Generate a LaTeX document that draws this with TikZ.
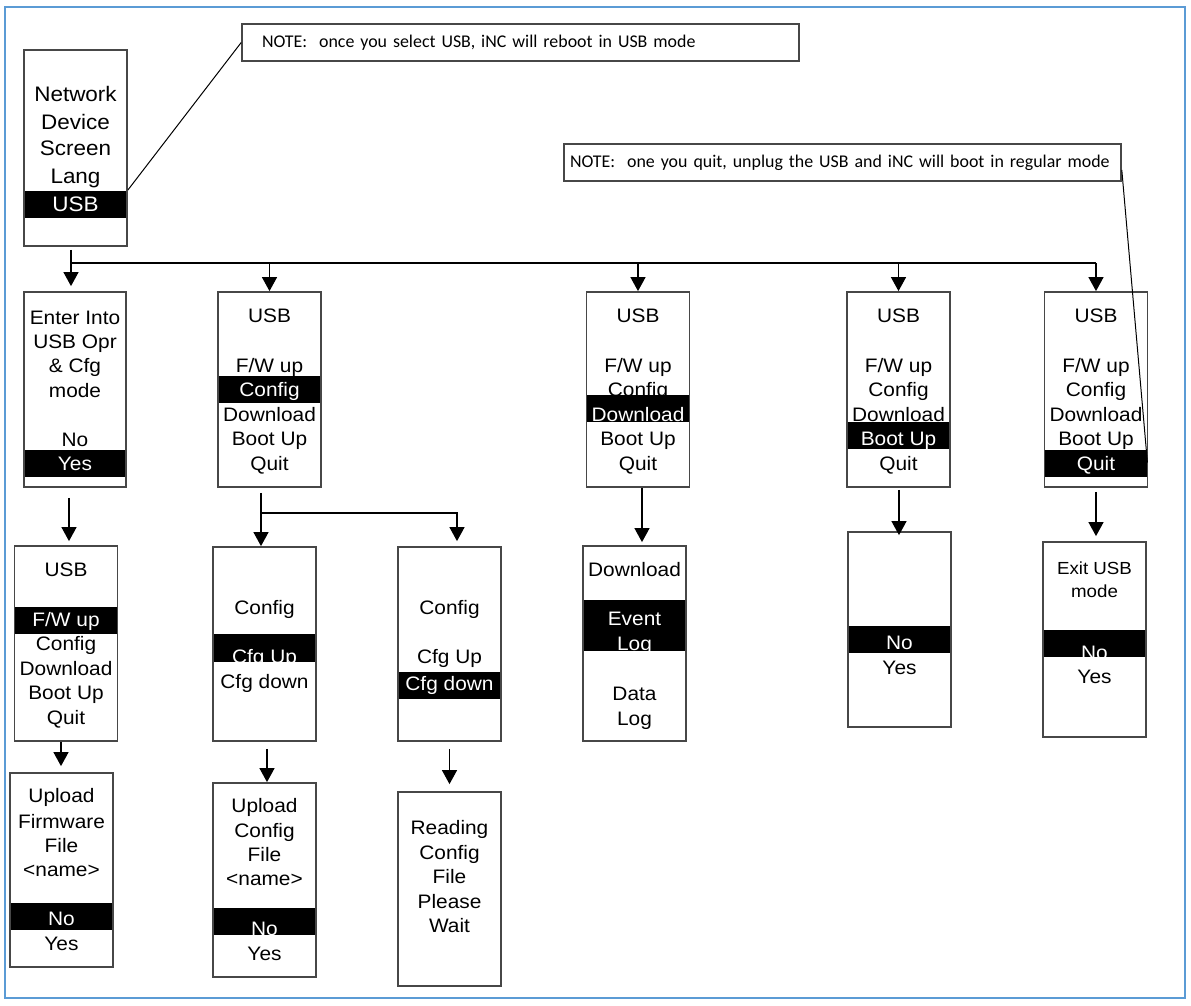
\documentclass[tikz,border=0pt]{standalone}
\usepackage{fontspec}
\setmainfont[FakeStretch=1.07]{Liberation Sans}
\newfontfamily\notefont{Carlito}
\usetikzlibrary{arrows.meta}

\definecolor{frameblue}{RGB}{91,155,213}
\newcommand{\fwup}{F/W up}

\tikzset{
  screen/.style={draw=black!72, line width=1.8pt, inner sep=0pt,
    minimum width=103pt, minimum height=195pt},
  item/.style={inner sep=0pt, text height=14pt, text depth=0pt,
    font=\fontsize{19.5}{24}\selectfont},
  sel/.style={item, text=white},
  note/.style={draw=black!72, line width=1.6pt, minimum height=37pt,
    align=left, font=\notefont\fontsize{17.9}{22}\selectfont},
  flow/.style={-{Triangle[width=15pt,length=14pt]}, line width=1.2pt},
  wire/.style={line width=1.2pt},
  lead/.style={line width=1pt},
}

% USB menu screen: name, centre x, top y, selected item, band top, band bottom
\newcommand{\usbmenu}[6]{%
  \node[item] at (#2,#3+23) {USB};
  \foreach \t [count=\i] in {\fwup,Config,Download,Boot Up,Quit}{
    \pgfmathsetmacro{\yy}{#3+48.5+24.5*\i}
    \ifnum\i=#4 \else \node[item] at (#2,\yy) {\t}; \fi
  }
  \fill (#2-51.5,#5) rectangle (#2+51.5,#6);
  \foreach \t [count=\i] in {\fwup,Config,Download,Boot Up,Quit}{
    \pgfmathsetmacro{\yy}{#3+48.5+24.5*\i}
    \ifnum\i=#4 \node[sel] at (#2,\yy) {\t}; \fi
  }
  \node[screen] (#1) at (#2,#3+97.5) {};
}

\begin{document}
\begin{tikzpicture}[x=1pt,y=-1pt]
  \useasboundingbox (0,0) rectangle (1191,1005);
  \draw[frameblue, line width=2pt] (5,7) rectangle (1185,998);

  % Notes.
  \node[note, text width=517pt, inner xsep=20pt] (note1) at (520.5,42.5)
    {NOTE:\ \ once you select USB, iNC will reboot in USB mode};
  \node[note, text width=545pt, inner xsep=6pt] (note2) at (842.5,162.5)
    {NOTE:\ \ one you quit, unplug the USB and iNC will boot in regular mode};

  % Main menu.
  \foreach \t/\yy in {Network/94, Device/122, Screen/148, Lang/176}
    \node[item, font=\fontsize{21}{26}\selectfont] at (75.5,\yy) {\t};
  \fill (24,191) rectangle (127,218);
  \node[sel, font=\fontsize{21}{26}\selectfont] at (75.5,204) {USB};
  \node[screen, minimum height=196pt] (netmenu) at (75.5,148) {};

  % Enter USB mode.
  \foreach \t/\yy in {Enter Into/317, USB Opr/341, \& Cfg/365, mode/390, No/439}
    \node[item] at (75,\yy) {\t};
  \fill (24,450) rectangle (126,477);
  \node[sel] at (75,463) {Yes};
  \node[screen, minimum width=102pt] (enter) at (75,389.5) {};

  % USB menus.
  \usbmenu{usbcfg}{269.5}{292}{2}{376}{403}
  \usbmenu{usbdl}{638}{292}{3}{395}{422}
  \usbmenu{usbboot}{898.5}{292}{4}{422}{449}
  \usbmenu{usbquit}{1096}{292}{5}{450}{477}
  \usbmenu{usbfw}{66}{546}{1}{607}{634}

  % Firmware upload.
  \foreach \t/\yy in {Upload/795, Firmware/821, File/845, <name>/869, Yes/943}
    \node[item] at (61.5,\yy) {\t};
  \fill (10,903) rectangle (113,930);
  \node[sel] at (61.5,918) {No};
  \node[screen, minimum height=194pt] (fwfile) at (61.5,870) {};

  % Config menus.
  \foreach \t/\yy in {Config/607, Cfg down/681}
    \node[item] at (264.5,\yy) {\t};
  \fill (213,634) rectangle (316,662);
  \node[sel] at (264.5,656) {Cfg Up};
  \node[screen, minimum height=194pt] (cfgup) at (264.5,644) {};

  \foreach \t/\yy in {Config/607, Cfg Up/656}
    \node[item] at (449.5,\yy) {\t};
  \fill (398,672) rectangle (501,699);
  \node[sel] at (449.5,683) {Cfg down};
  \node[screen, minimum height=194pt] (cfgdown) at (449.5,644) {};

  \foreach \t/\yy in {Upload/805, Config/830, File/854, <name>/878, Yes/953}
    \node[item] at (264.5,\yy) {\t};
  \fill (213,908) rectangle (316,935);
  \node[sel] at (264.5,928) {No};
  \node[screen, minimum height=194pt] (cfgfile) at (264.5,880) {};

  \foreach \t/\yy in {Reading/827, Config/852, File/876, Please/901, Wait/925}
    \node[item] at (449.5,\yy) {\t};
  \node[screen, minimum height=194pt] (reading) at (449.5,889) {};

  % Download menu.
  \foreach \t/\yy in {Download/569, Data/693, Log/718}
    \node[item] at (634.5,\yy) {\t};
  \fill (583,600) rectangle (686,651);
  \foreach \t/\yy in {Event/618, Log/643}
    \node[sel] at (634.5,\yy) {\t};
  \node[screen] (logs) at (634.5,643.5) {};

  % Boot up and quit confirmations.
  \node[item] at (899.5,667) {Yes};
  \fill (848,626) rectangle (951,653);
  \node[sel] at (899.5,642) {No};
  \node[screen] (bootconf) at (899.5,629.5) {};

  \foreach \t/\yy in {Exit USB/567, mode/590}
    \node[item, font=\fontsize{17.5}{21}\selectfont] at (1094.5,\yy) {\t};
  \node[item] at (1094.5,676) {Yes};
  \fill (1043,630) rectangle (1146,657);
  \node[sel] at (1094.5,652) {No};
  \node[screen] (exitconf) at (1094.5,639.5) {};

  % Connectors.
  \draw[flow, shorten <=3pt, shorten >=5pt] ([xshift=-4.5pt]netmenu.south) -- ([xshift=-4pt]enter.north);
  \coordinate (busL) at ([xshift=-4.5pt, yshift=-16pt]netmenu.south);
  \coordinate (busR) at (usbquit.north |- busL);
  \draw[wire] (busL) -- (busR);
  \foreach \m in {usbcfg, usbdl, usbboot, usbquit}
    \draw[flow] (\m.north |- busL) -- (\m.north);

  \draw[flow, shorten <=10pt, shorten >=4pt] ([xshift=-6pt]enter.south) -- ([xshift=3pt]usbfw.north);
  \draw[flow, shorten >=6pt] ([xshift=-5pt]usbfw.south) -- ([xshift=-0.5pt]fwfile.north);

  \draw[flow, shorten <=5pt] ([xshift=-8.5pt]usbcfg.south) -- ([xshift=-3.5pt]cfgup.north);
  \coordinate (cfgsplit) at ([xshift=-8.5pt, yshift=-25pt]usbcfg.south);
  \draw[flow, shorten >=5pt] (cfgsplit) -| ([xshift=7.5pt]cfgdown.north);
  \draw[flow, shorten <=7pt] ([xshift=2.5pt]cfgup.south) -- ([xshift=2.5pt]cfgfile.north);
  \draw[flow, shorten <=7pt, shorten >=7pt] (cfgdown.south) -- (reading.north);

  \draw[flow, shorten >=3pt] ([xshift=4pt]usbdl.south) -- ([xshift=7.5pt]logs.north);
  \draw[flow, shorten <=2pt, shorten >=-4pt] ([xshift=0.5pt]usbboot.south) -- ([xshift=-0.5pt]bootconf.north);
  \draw[flow, shorten <=4pt, shorten >=5pt] (usbquit.south) -- ([xshift=1.5pt]exitconf.north);

  % Note leaders.
  \draw[lead] ([yshift=-42pt]netmenu.east) -- (note1.west);
  \draw[lead] ([yshift=-7.5pt]note2.east) -- ([xshift=-1pt, yshift=-73pt]usbquit.east);
\end{tikzpicture}
\end{document}
